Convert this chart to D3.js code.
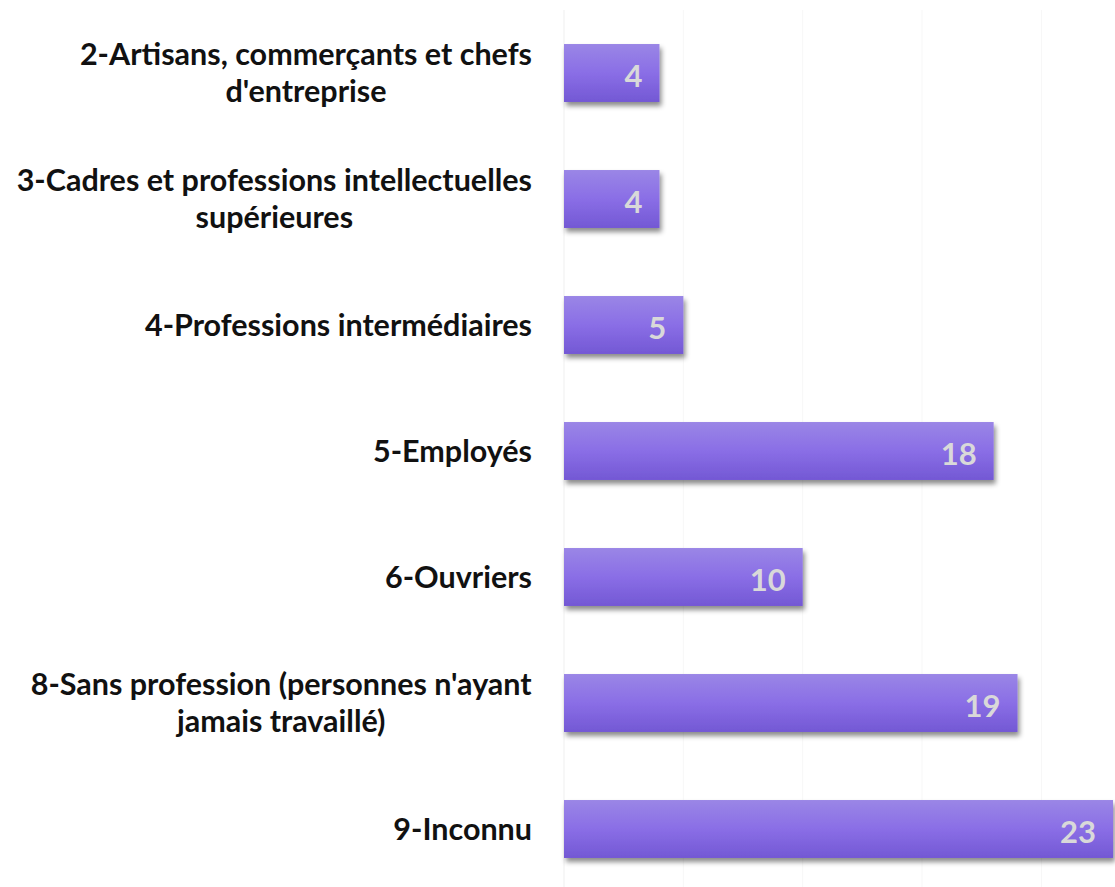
<!DOCTYPE html>
<html>
<head>
<meta charset="utf-8">
<script src="https://cdn.jsdelivr.net/npm/d3@7"></script>
<style>
  html, body { margin: 0; padding: 0; background: #fff; }
  svg { display: block; }
  .cat { font-family: Lato, "Open Sans", sans-serif; font-weight: 700; fill: #111; }
  .val { font-family: Lato, "Open Sans", sans-serif; font-weight: 700; fill: #d9d9d9; }
</style>
</head>
<body>
<svg id="chart" width="1115" height="887"></svg>
<script>
// --- Données ---
const categories = [
    "2-Artisans, commerçants et chefs\nd'entreprise",
    "3-Cadres et professions intellectuelles\nsupérieures",
    "4-Professions intermédiaires",
    "5-Employés",
    "6-Ouvriers",
    "8-Sans profession (personnes n'ayant\njamais travaillé)",
    "9-Inconnu"
];
const values = [4, 4, 5, 18, 10, 19, 23];
const gridTicks = [0, 5, 10, 15, 20, 25];

const svg = d3.select("#chart");
const margin = { left: 564, top: 10 };

const x = d3.scaleLinear().domain([0, 25]).range([margin.left, margin.left + 25 * 23.87]);
const y = d3.scaleBand().domain(categories).range([margin.top, 892]).paddingInner(0.54).paddingOuter(0.27);

// dégradé + ombre
const defs = svg.append("defs");
const grad = defs.append("linearGradient").attr("id", "barGrad")
    .attr("x1", 0).attr("y1", 0).attr("x2", 0).attr("y2", 1);
grad.append("stop").attr("offset", "0%").attr("stop-color", "#9a86e6");
grad.append("stop").attr("offset", "50%").attr("stop-color", "#8a6ee6");
grad.append("stop").attr("offset", "100%").attr("stop-color", "#7358d4");

const shadow = defs.append("filter").attr("id", "shadow")
    .attr("x", "-5%").attr("y", "-20%").attr("width", "115%").attr("height", "160%");
shadow.append("feDropShadow").attr("dx", 2).attr("dy", 4).attr("stdDeviation", 2.5)
    .attr("flood-color", "#000").attr("flood-opacity", 0.45);

// grille verticale
svg.append("g").selectAll("line")
    .data(gridTicks)
    .join("line")
    .attr("x1", d => x(d)).attr("x2", d => x(d))
    .attr("y1", margin.top).attr("y2", 887)
    .attr("stroke", d => d === 0 ? "#efefef" : "#f7f7f7")
    .attr("stroke-width", 1);

// barres
svg.append("g").selectAll("rect")
    .data(values)
    .join("rect")
    .attr("x", x(0))
    .attr("y", (d, i) => y(categories[i]))
    .attr("width", d => x(d) - x(0))
    .attr("height", y.bandwidth())
    .attr("fill", "url(#barGrad)")
    .attr("filter", "url(#shadow)");

// valeurs
svg.append("g").selectAll("text")
    .data(values)
    .join("text")
    .attr("class", "val")
    .attr("x", d => x(d) - 17)
    .attr("y", (d, i) => y(categories[i]) + y.bandwidth() / 2)
    .attr("dy", "0.45em")
    .attr("text-anchor", "end")
    .attr("font-size", 31)
    .text(d => d);

// étiquettes
const lineH = 37;
const labels = svg.append("g").selectAll("text")
    .data(categories)
    .join("text")
    .attr("class", "cat")
    .attr("font-size", 30.5)
    .attr("text-anchor", "middle");

labels.each(function (d) {
    const lines = d.split("\n");
    const cy = y(d) + y.bandwidth() / 2;
    const t = d3.select(this);
    lines.forEach((ln, j) => {
        t.append("tspan")
            .attr("x", 0)
            .attr("y", cy + (j - (lines.length - 1) / 2) * lineH)
            .attr("dy", "0.35em")
            .text(ln);
    });
});
// centrage des lignes sur la plus longue, alignée à droite
labels.each(function () {
    const t = d3.select(this);
    const w = this.getBBox().width;
    t.attr("transform", `translate(${532 - w / 2},0)`);
});
</script>
</body>
</html>
